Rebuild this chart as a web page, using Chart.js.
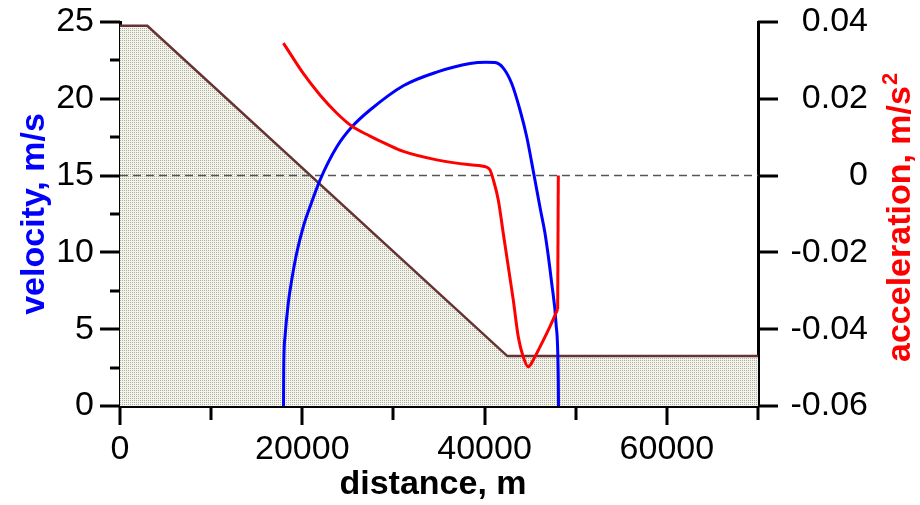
<!DOCTYPE html>
<html>
<head>
<meta charset="utf-8">
<script src="https://cdn.jsdelivr.net/npm/chart.js@4.4.1/dist/chart.umd.min.js"></script>
<style>
html, body { margin: 0; padding: 0; background: #fff; }
</style>
</head>
<body>
<canvas id="profileChart" width="920" height="505"></canvas>
<script>
// ground profile (drawn on velocity scale)
var groundDist = [0, 3000, 42500, 70000];
var groundLevel = [24.75, 24.75, 3.25, 3.25];

// velocity, m/s
var velDist = [17940, 17962, 18104, 18466, 18839, 19388, 20111, 20847, 21944, 23776, 25422, 27430, 31084, 34748, 38402, 40157, 41145, 42055, 42977, 43888, 44623, 45424, 46137, 46631, 47366, 47838, 48090, 48112];
var velValues = [0, 2.34, 4.51, 6.71, 8.2, 9.96, 11.67, 12.97, 14.71, 16.86, 18.16, 19.27, 20.85, 21.74, 22.3, 22.38, 22.36, 22.0, 21.0, 19.27, 17.53, 15.04, 12.76, 11.24, 7.99, 5.38, 1.69, 0];

// acceleration, m/s2 (last point closes the trace back to zero)
var accDist = [17930, 20110, 21940, 23770, 25420, 27430, 29260, 31090, 34750, 38400, 40230, 40590, 40960, 41510, 42050, 42600, 43150, 43700, 44240, 44800, 45340, 46080, 47170, 48020, 48090];
var accValues = [0.0345, 0.0266, 0.0210, 0.0163, 0.0129, 0.0103, 0.0082, 0.0063, 0.0041, 0.0028, 0.0022, 0.0015, -0.0011, -0.0064, -0.0150, -0.0237, -0.0324, -0.0420, -0.0472, -0.0498, -0.0480, -0.0446, -0.0393, -0.0348, 0];

// zero acceleration reference
var zeroDist = [0, 70000];
var zeroVel = [15, 15];

// axis ticks
var xTicks = [0, 10000, 20000, 30000, 40000, 50000, 60000, 70000];
var xTickLabels = ['0', '', '20000', '', '40000', '', '60000', ''];
var velTicks = [0, 5, 10, 15, 20, 25];
var velMinorTicks = [2.5, 7.5, 12.5, 17.5, 22.5];
var accTicks = [-0.06, -0.04, -0.02, 0, 0.02, 0.04];
var accTickLabels = ['-0.06', '-0.04', '-0.02', '0', '0.02', '0.04'];

function pts(xs, ys) {
  var out = [];
  for (var i = 0; i < xs.length; i++) out.push({ x: xs[i], y: ys[i] });
  return out;
}

var FONT = "'Liberation Sans', Arial, sans-serif";
var canvas = document.getElementById("profileChart");
var ctx = canvas.getContext("2d");

// dotted khaki fill like the original
var tile = document.createElement("canvas");
tile.width = 2; tile.height = 2;
var tctx = tile.getContext("2d");
tctx.fillStyle = "#f4f4ee";
tctx.fillRect(0, 0, 2, 2);
tctx.fillStyle = "#afae96";
tctx.fillRect(0, 0, 1, 1);
var groundFill = ctx.createPattern(tile, "repeat");

var n = accDist.length;

var axisDecor = {
  id: "axisDecor",
  afterDraw: function (chart) {
    var c = chart.ctx;
    var x = chart.scales.x, yv = chart.scales.y, ya = chart.scales.y1;
    var area = chart.chartArea;
    c.save();
    c.strokeStyle = "#000";
    c.lineWidth = 3;
    c.beginPath();
    xTicks.forEach(function (v, i) {
      var px = Math.round(x.getPixelForValue(v));
      c.moveTo(px, area.bottom);
      c.lineTo(px, area.bottom + (xTickLabels[i] ? 19 : 14));
    });
    velTicks.forEach(function (v) {
      var py = Math.round(yv.getPixelForValue(v));
      c.moveTo(area.left, py);
      c.lineTo(area.left - 20, py);
    });
    velMinorTicks.forEach(function (v) {
      var py = Math.round(yv.getPixelForValue(v));
      c.moveTo(area.left, py);
      c.lineTo(area.left - 10, py);
    });
    accTicks.forEach(function (v) {
      var py = Math.round(ya.getPixelForValue(v));
      c.moveTo(area.right, py);
      c.lineTo(area.right + 20, py);
    });
    c.stroke();

    // right tick labels, right aligned
    c.font = "34px " + FONT;
    c.fillStyle = "#000";
    c.textAlign = "right";
    c.textBaseline = "middle";
    accTicks.forEach(function (v, i) {
      c.fillText(accTickLabels[i], area.right + 110, ya.getPixelForValue(v));
    });

    // axis titles
    c.font = "bold 34px " + FONT;
    c.textBaseline = "alphabetic";
    c.fillStyle = "#0000ff";
    c.save();
    c.translate(44, 214);
    c.rotate(-Math.PI / 2);
    c.textAlign = "center";
    c.fillText("velocity, m/s", 0, 0);
    c.restore();

    c.fillStyle = "#ff0000";
    c.save();
    c.translate(910, 362);
    c.rotate(-Math.PI / 2);
    c.textAlign = "left";
    c.fillText("acceleration, m/s", 0, 0);
    var w = c.measureText("acceleration, m/s").width;
    c.font = "bold 22px " + FONT;
    c.fillText("2", w + 1, -13);
    c.restore();

    c.font = "bold 34px " + FONT;
    c.fillStyle = "#000";
    c.textAlign = "center";
    c.fillText("distance, m", 433, 494);
    c.restore();
  }
};

new Chart(ctx, {
  type: "line",
  data: {
    datasets: [
      {
        data: pts(velDist, velValues),
        yAxisID: "y",
        borderColor: "#0000ff",
        borderWidth: 3,
        cubicInterpolationMode: "monotone",
        fill: false,
        order: 2
      },
      {
        data: pts(accDist.slice(0, n - 1), accValues.slice(0, n - 1)),
        yAxisID: "y1",
        borderColor: "#ff0000",
        borderWidth: 3,
        cubicInterpolationMode: "monotone",
        fill: false,
        order: 1
      },
      {
        data: pts(accDist.slice(n - 2), accValues.slice(n - 2)),
        yAxisID: "y1",
        borderColor: "#ff0000",
        borderWidth: 3,
        fill: false,
        order: 1
      },
      {
        data: pts(zeroDist, zeroVel),
        yAxisID: "y",
        borderColor: "#555555",
        borderWidth: 1.5,
        borderDash: [8, 5],
        fill: false,
        order: 3
      },
      {
        data: pts(groundDist, groundLevel),
        yAxisID: "y",
        borderColor: "#663333",
        borderWidth: 2.5,
        backgroundColor: groundFill,
        fill: "start",
        order: 4
      }
    ]
  },
  options: {
    responsive: false,
    animation: false,
    layout: { padding: { top: 22, left: 0, right: 0, bottom: 0 } },
    elements: { point: { radius: 0 } },
    plugins: { legend: { display: false }, tooltip: { enabled: false } },
    scales: {
      x: {
        type: "linear",
        min: 0,
        max: 70000,
        afterBuildTicks: function (s) { s.ticks = xTicks.map(function (v) { return { value: v }; }); },
        afterFit: function (s) { s.height = 99; },
        grid: { drawOnChartArea: false, color: "rgba(0,0,0,0)", tickLength: 20 },
        border: { display: true, color: "#000", width: 3 },
        ticks: {
          autoSkip: false,
          maxRotation: 0,
          padding: 3,
          color: "#000",
          font: { family: FONT, size: 34 },
          callback: function (v, i) { return xTickLabels[i]; }
        }
      },
      y: {
        position: "left",
        min: 0,
        max: 25,
        afterBuildTicks: function (s) { s.ticks = velTicks.map(function (v) { return { value: v }; }); },
        afterFit: function (s) { s.width = 120; },
        grid: { drawOnChartArea: false, color: "rgba(0,0,0,0)", tickLength: 20 },
        border: { display: true, color: "#000", width: 3 },
        ticks: {
          padding: 6,
          color: "#000",
          font: { family: FONT, size: 34, lineHeight: 0.6 },
          callback: function (v) { return String(v); }
        }
      },
      y1: {
        position: "right",
        min: -0.06,
        max: 0.04,
        afterBuildTicks: function (s) { s.ticks = accTicks.map(function (v) { return { value: v }; }); },
        afterFit: function (s) { s.width = 162; },
        grid: { drawOnChartArea: false, color: "rgba(0,0,0,0)", tickLength: 20 },
        border: { display: true, color: "#000", width: 3 },
        ticks: { display: false }
      }
    }
  },
  plugins: [axisDecor]
});
</script>
</body>
</html>
